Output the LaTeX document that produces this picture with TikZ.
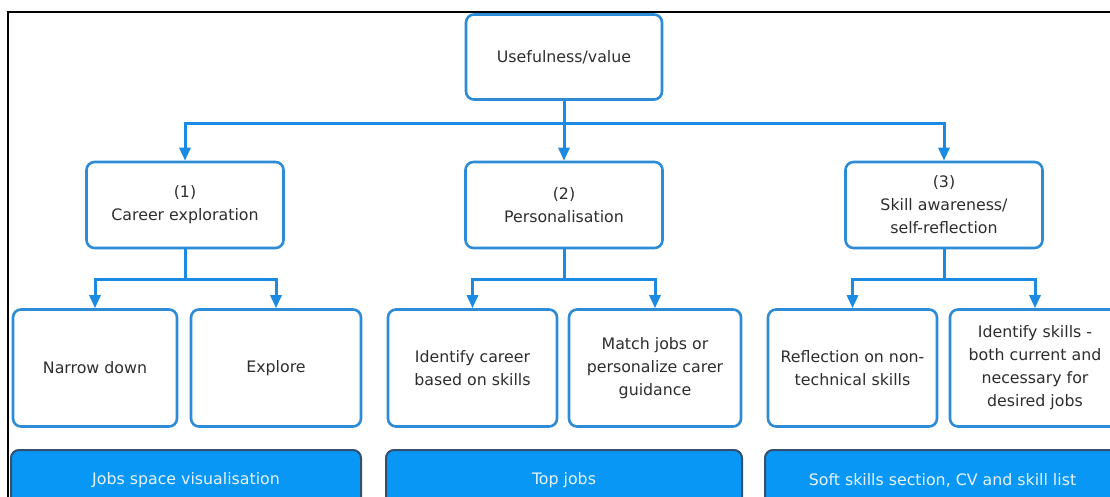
\documentclass[tikz,border=0pt]{standalone}
\usepackage{fontspec}
\setmainfont{DejaVu Sans}
\usetikzlibrary{arrows.meta}

\definecolor{boxline}{HTML}{2E8BD6}
\definecolor{linkblue}{HTML}{1A8AE2}
\definecolor{barfill}{HTML}{0897F4}
\definecolor{barline}{HTML}{34506E}
\definecolor{bartext}{HTML}{E6F3FF}
\definecolor{darktext}{HTML}{2E2E2E}

\tikzset{
  box/.style={draw=boxline, line width=2.6pt, rounded corners=8pt, fill=white,
    align=center, text=darktext, inner sep=0pt,
    font=\fontsize{15.8}{23}\selectfont},
  topbox/.style={box, minimum width=196pt, minimum height=85pt},
  midbox/.style={box, minimum width=197pt, minimum height=86pt},
  leafbox/.style={box, minimum height=117pt},
  bar/.style={draw=barline, line width=2pt, rounded corners=8pt, fill=barfill,
    text=bartext, inner sep=0pt, minimum height=60pt,
    font=\fontsize{15.8}{23}\selectfont},
  link/.style={draw=linkblue, line width=3pt},
  arr/.style={link, -{Triangle[width=11pt,length=13pt]}}
}

\begin{document}
\begin{tikzpicture}[x=1pt, y=-1pt]
    \useasboundingbox (0,0) rectangle (1110,497);
    \clip (0,0) rectangle (1110,497);
    \fill[white] (0,0) rectangle (1110,497);

    % frame
    \draw[line width=1.2pt] (8,497) -- (8,12) -- (1110,12);

    % top
    \node[topbox] (top) at (564,57) {Usefulness/value};

    % three areas
    \node[midbox] (expl) at (185,205) {(1)\\Career exploration};
    \node[midbox] (pers) at (564,205) {(2)\\Personalisation};
    \node[midbox] (skill) at (944,205) {(3)\\Skill awareness/\\self-reflection};

    % leaves
    \node[leafbox, minimum width=164pt] (narrow) at (95,368) {Narrow down};
    \node[leafbox, minimum width=170pt] (explore) at (276,368) {Explore};
    \node[leafbox, minimum width=169pt] (career) at (472.5,368) {Identify career\\based on skills};
    \node[leafbox, minimum width=172pt] (match) at (655,368) {Match jobs or\\personalize carer\\guidance};
    \node[leafbox, minimum width=169pt] (reflect) at (852.5,368) {Reflection on non-\\technical skills};
    \node[leafbox, minimum width=170pt] (ident) at (1035,368) {Identify skills -\\both current and\\necessary for\\desired jobs};

    % bars
    \node[bar, minimum width=350pt] (jobspace) at (186,480) {Jobs space visualisation};
    \node[bar, minimum width=356pt] (topjobs) at (564,480) {Top jobs};
    \node[bar, minimum width=355pt] (soft) at (942.5,480) {Soft skills section, CV and skill list};

    % links from top
    \draw[link] (top.south) -- (564,124) coordinate (j0);
    \draw[arr] (j0) -| (expl.north);
    \draw[arr] (j0) -- (pers.north);
    \draw[arr] (j0) -| (skill.north);

    % links to leaves
    \draw[link] (expl.south) -- (185,279) coordinate (j1);
    \draw[arr] (j1) -| (narrow.north);
    \draw[arr] (j1) -| (explore.north);
    \draw[link] (pers.south) -- (564,279) coordinate (j2);
    \draw[arr] (j2) -| (career.north);
    \draw[arr] (j2) -| (match.north);
    \draw[link] (skill.south) -- (944,279) coordinate (j3);
    \draw[arr] (j3) -| (reflect.north);
    \draw[arr] (j3) -| (ident.north);
\end{tikzpicture}
\end{document}
